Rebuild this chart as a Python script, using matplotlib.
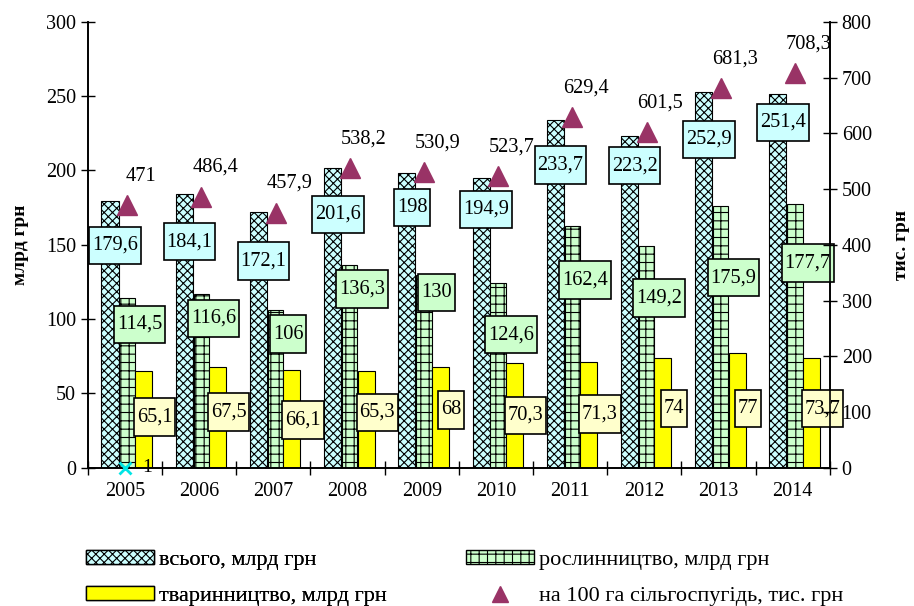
import numpy as np
import matplotlib
matplotlib.use("Agg")
import matplotlib.pyplot as plt
from matplotlib.patches import Patch
from matplotlib.lines import Line2D
from matplotlib.path import Path

plt.rcParams['font.family'] = ['Liberation Serif', 'DejaVu Serif']
plt.rcParams['hatch.linewidth'] = 0.8

years = ['2005', '2006', '2007', '2008', '2009', '2010', '2011', '2012', '2013', '2014']
total = [179.6, 184.1, 172.1, 201.6, 198, 194.9, 233.7, 223.2, 252.9, 251.4]
crops = [114.5, 116.6, 106, 136.3, 130, 124.6, 162.4, 149.2, 175.9, 177.7]
livestock = [65.1, 67.5, 66.1, 65.3, 68, 70.3, 71.3, 74, 77, 73.7]
per100ha = [471, 486.4, 457.9, 538.2, 530.9, 523.7, 629.4, 601.5, 681.3, 708.3]

# label box shifts (data units, left axis) – layout only
total_shift = [-30, -32, -33, -31, -23, -21, -30, -20, -32, -19]
crops_shift = [-18, -16, -16, -16, -12, -35, -36, -35, -48, -40]
live_shift = [-31, -30, -34, -28, -29, -35, -35, -34, -37, -34]


def fmt(v):
    s = ('%.1f' % v).rstrip('0').rstrip('.')
    return s.replace('.', ',')


def tall_box(x0, y0, width, height, mutation_size):
    px = 0.14 * mutation_size
    py = 0.45 * mutation_size
    x0, y0 = x0 - px, y0 - py
    x1, y1 = x0 + width + 2 * px, y0 + height + 2 * py
    return Path([(x0, y0), (x1, y0), (x1, y1), (x0, y1), (x0, y0)], closed=True)


x = np.arange(len(years))
w = 0.23

fig = plt.figure(figsize=(9.14, 6.06), dpi=100)
ax = fig.add_axes([0.096, 0.228, 0.812, 0.736])
ax2 = ax.twinx()

ax.bar(x - 0.2, total, w, color='#CCFFFF', edgecolor='black', hatch='xxxx', linewidth=0.8, zorder=2)
ax.bar(x + 0.03, crops, w * 0.9, color='#CCFFCC', edgecolor='black', hatch='++', linewidth=0.8, zorder=2)
ax.bar(x + 0.25, livestock, w, color='#FFFF00', edgecolor='black', linewidth=0.8, zorder=2)

ax2.plot(x + 0.03, per100ha, '^', color='#993366', markersize=15, zorder=3)
ax2.plot([0], [0], 'x', color='#00E5E5', markersize=9, mew=2, clip_on=False, zorder=4)
ax2.text(0.3, 0, '1', fontsize=14, ha='center', va='center')

fs = 14.7
for i in range(len(years)):
    ax.text(x[i] - 0.13, total[i] + total_shift[i], fmt(total[i]), fontsize=fs, ha='center', va='center', zorder=5,
            bbox=dict(boxstyle=tall_box, fc='#CCFFFF', ec='black', lw=1.2))
    ax.text(x[i] + 0.2, crops[i] + crops_shift[i], fmt(crops[i]), fontsize=fs, ha='center', va='center', zorder=5,
            bbox=dict(boxstyle=tall_box, fc='#CCFFCC', ec='black', lw=1.2))
    ax.text(x[i] + 0.4, livestock[i] + live_shift[i], fmt(livestock[i]), fontsize=fs, ha='center', va='center', zorder=5,
            bbox=dict(boxstyle=tall_box, fc='#FFFFCC', ec='black', lw=1.2))
    ax2.annotate(fmt(per100ha[i]), (x[i] + 0.03, per100ha[i]), xytext=(10, 21), textcoords='offset points',
                 fontsize=fs, ha='center', va='center', zorder=5)

ax.set_xlim(-0.5, len(years) - 0.5)
ax.set_ylim(0, 300)
ax2.set_ylim(0, 800)
ax.set_yticks(range(0, 301, 50))
ax2.set_yticks(range(0, 801, 100))
ax.set_xticks(x)
ax.set_xticklabels(years)
ax.set_xticks(np.arange(-0.5, len(years), 1), minor=True)
ax.tick_params(axis='x', which='major', length=0, labelsize=14.5, pad=10)
ax.tick_params(axis='x', which='minor', length=10, direction='inout', width=1)
ax.tick_params(axis='y', direction='inout', length=10, labelsize=14.5, width=1)
ax2.tick_params(axis='y', direction='inout', length=10, labelsize=14.5, width=1)
for a in (ax, ax2):
    a.spines['top'].set_visible(False)
    for s in ('left', 'right', 'bottom'):
        a.spines[s].set_linewidth(1.2)

ax.set_ylabel('млрд грн', fontsize=14, fontweight='bold', labelpad=12)
ax2.set_ylabel('тис. грн', fontsize=14, fontweight='bold', rotation=90, labelpad=15)

leg_kw = dict(frameon=False, prop={'family': 'Liberation Serif', 'size': 16}, handlelength=3.05,
              handleheight=0.55, labelspacing=0.75, handletextpad=0.25, borderpad=0, borderaxespad=0,
              loc='upper left')
h1 = [
    Patch(facecolor='#CCFFFF', edgecolor='black', hatch='xxxx', label='всього, млрд грн'),
    Patch(facecolor='#FFFF00', edgecolor='black', label='тваринництво, млрд грн'),
]
h2 = [
    Patch(facecolor='#CCFFCC', edgecolor='black', hatch='++', label='рослинництво, млрд грн'),
    Line2D([], [], marker='^', color='#993366', linestyle='none', markersize=11,
           label='на 100 га сільгоспугідь, тис. грн'),
]
leg1 = fig.legend(handles=h1, bbox_to_anchor=(86 / 914, 0.092), **leg_kw)
fig.add_artist(leg1)
fig.legend(handles=h2, bbox_to_anchor=(466 / 914, 0.092), **leg_kw)

fig.savefig('out.png', dpi=100)
